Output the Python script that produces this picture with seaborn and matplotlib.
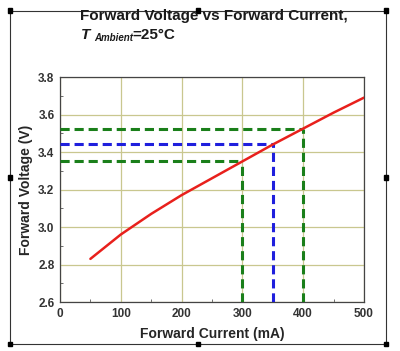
import numpy as np
import pandas as pd
import seaborn as sns
import matplotlib.pyplot as plt
from matplotlib.patches import Rectangle

current_ma = [50, 100, 150, 200, 250, 300, 350, 400, 450, 500]
voltage_v = [2.83, 2.96, 3.07, 3.17, 3.26, 3.35, 3.44, 3.525, 3.61, 3.69]

# operating points marked with dashed guides
mark_current = [300, 350, 400]
mark_voltage = [3.35, 3.445, 3.525]
mark_colors = ['#1a7f1a', '#1f1fdd', '#1a7f1a']

sns.set_style('white')
plt.rcParams['font.family'] = ['Liberation Sans', 'DejaVu Sans']
plt.rcParams['text.color'] = '#1a1a1a'

df = pd.DataFrame({'Current': current_ma, 'Voltage': voltage_v})

fig = plt.figure(figsize=(4, 3.51), dpi=100)
ax = fig.add_axes([0.15, 0.1396, 0.76, 0.641])

sns.lineplot(data=df, x='Current', y='Voltage', color='#e8201c', lw=1.8, ax=ax, zorder=4)

for c, v, col in zip(mark_current, mark_voltage, mark_colors):
    ax.plot([0, c], [v, v], ls=(0, (3, 1.6)), color=col, lw=2.2, zorder=3)
    ax.plot([c, c], [2.6, v], ls=(0, (3, 1.6)), color=col, lw=2.2, zorder=3)

ax.set_xlim(0, 500)
ax.set_ylim(2.6, 3.8)
ax.set_xticks(np.arange(0, 501, 100))
ax.set_xticks(np.arange(50, 500, 100), minor=True)
ax.set_yticks(np.arange(2.6, 3.81, 0.2))
ax.set_yticks(np.arange(2.7, 3.8, 0.2), minor=True)
ax.set_yticklabels([f'{v:.1f}' for v in np.arange(2.6, 3.81, 0.2)])
ax.grid(True, which='major', color='#c9c78f', lw=0.9)
ax.tick_params(which='both', direction='in', labelsize=8.5, color='#555555')
ax.tick_params(which='major', length=3, pad=4)
ax.tick_params(which='minor', length=2, left=True, bottom=True)
for lab in ax.get_xticklabels() + ax.get_yticklabels():
    lab.set_fontweight('bold')
    lab.set_color('#333333')
for s in ax.spines.values():
    s.set_color('#444444')
    s.set_linewidth(0.9)

ax.set_xlabel('Forward Current (mA)', fontsize=10, fontweight='bold', labelpad=5)
ax.set_ylabel('Forward Voltage (V)', fontsize=10, fontweight='bold', labelpad=4)

fig.text(0.2, 0.955, 'Forward Voltage vs Forward Current,', fontsize=11,
         fontweight='bold', va='center', ha='left')
fig.text(0.203, 0.9, 'T', fontsize=11, fontweight='bold', style='italic', va='center')
fig.text(0.236, 0.893, 'Ambient', fontsize=7, fontweight='bold', style='italic', va='center')
fig.text(0.332, 0.9, '=25°C', fontsize=11, fontweight='bold', va='center')

# document frame around the figure
fig.patches.append(Rectangle((0.025, 0.02), 0.94, 0.95, transform=fig.transFigure,
                             fill=False, ec='#333333', lw=0.8))
for hx, hy in [(0.025, 0.97), (0.495, 0.97), (0.965, 0.97), (0.025, 0.495),
               (0.965, 0.495), (0.025, 0.02), (0.495, 0.02), (0.965, 0.02)]:
    fig.patches.append(Rectangle((hx - 0.006, hy - 0.007), 0.012, 0.014,
                                 transform=fig.transFigure, color='black'))

fig.savefig('out.png', dpi=100)
